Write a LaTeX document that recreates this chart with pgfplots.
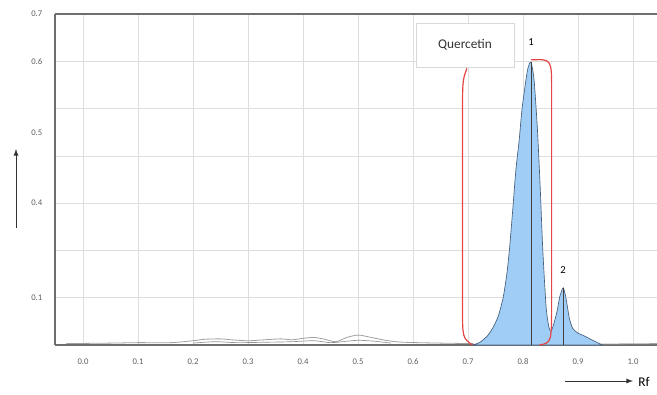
\documentclass[border=0pt]{standalone}
\usepackage{pgfplots}
\pgfplotsset{compat=1.18}
\usepackage{fontspec}
\setmainfont{Carlito}
\definecolor{fillblue}{RGB}{160,205,245}
\definecolor{outl}{RGB}{70,95,125}
\definecolor{axgray}{RGB}{110,110,110}
\definecolor{gridgray}{RGB}{222,222,222}
\definecolor{bracketred}{RGB}{228,70,70}
\definecolor{tickgray}{RGB}{95,95,95}
\begin{document}
\begin{tikzpicture}
\useasboundingbox (-55*0.75pt,-49*0.75pt) rectangle (602*0.75pt,345*0.75pt);
\begin{axis}[
  at={(0,0)}, anchor=south west,
  width=602*0.75pt, height=331*0.75pt, scale only axis,
  xmin=-0.0509, xmax=1.0436, ymin=0, ymax=7,
  axis x line*=bottom, axis y line*=left,
  axis line style={-, axgray, line width=2.2pt},
  xtick={0,0.1,0.2,0.3,0.4,0.5,0.6,0.7,0.8,0.9,1.0},
  xticklabels={0.0,0.1,0.2,0.3,0.4,0.5,0.6,0.7,0.8,0.9,1.0},
  ytick={1,2,3,4,5,6,7},
  yticklabels={0.1,,0.4,,,0.6,0.7},
  extra y ticks={4.5}, extra y tick labels={0.5},
  extra y tick style={grid=none},
  major tick length=0pt,
  grid=major, grid style={gridgray, line width=0.5pt},
  tick label style={font=\fontsize{6.5}{7}\selectfont, text=tickgray},
  xticklabel style={yshift=-7pt},
  yticklabel style={xshift=-6pt},
  clip=false,
]
% baseline noise
\addplot[gray!75, line width=0.6pt, smooth] coordinates {
 (-0.03,0.03) (0.05,0.04) (0.1,0.05) (0.16,0.05) (0.2,0.09) (0.22,0.12) (0.25,0.13) (0.27,0.11)
 (0.3,0.09) (0.33,0.11) (0.36,0.13) (0.38,0.11) (0.4,0.14) (0.42,0.16) (0.44,0.12) (0.46,0.07)
 (0.48,0.16) (0.5,0.21) (0.52,0.17) (0.55,0.1) (0.58,0.06) (0.65,0.04) (0.71,0.03)};
\addplot[gray!85, line width=0.5pt, smooth] coordinates {
 (0.2,0.04) (0.24,0.07) (0.28,0.05) (0.34,0.06) (0.38,0.07) (0.42,0.09) (0.45,0.05)
 (0.48,0.08) (0.5,0.1) (0.53,0.08) (0.56,0.04)};
\addplot[gray!70, line width=0.6pt] coordinates {(0.94,0.02) (1.0436,0.03)};
% peaks
\addplot[fill=fillblue, draw=outl, line width=0.5pt, smooth, tension=0.4] coordinates {
 (0.709,0) (0.722,0.06) (0.735,0.19) (0.745,0.36) (0.755,0.61) (0.764,1.01) (0.771,1.54)
 (0.776,2.11) (0.782,2.96) (0.787,3.70) (0.793,4.33) (0.798,4.97) (0.804,5.50) (0.809,5.86)
 (0.8145,5.98) (0.820,5.62) (0.826,4.60) (0.831,3.40) (0.836,2.00) (0.842,0.80) (0.847,0.38)
 (0.851,0.29) (0.856,0.45) (0.862,0.72) (0.867,1.03) (0.873,1.21) (0.878,1.00) (0.884,0.58)
 (0.890,0.36) (0.900,0.25) (0.910,0.20) (0.925,0.11) (0.944,0)} \closedcycle;
% peak markers
\addplot[black!75, line width=0.6pt] coordinates {(0.8145,0) (0.8145,5.98)};
\addplot[black!75, line width=0.6pt] coordinates {(0.873,0) (0.873,1.21)};
% brackets
\draw[bracketred, line width=0.9pt] (axis cs:0.698,5.85) .. controls (axis cs:0.690,5.6) .. (axis cs:0.690,4.8)
  -- (axis cs:0.690,0.8) .. controls (axis cs:0.690,0.15) .. (axis cs:0.708,0.0);
\draw[bracketred, line width=0.9pt] (axis cs:0.8145,6.03) .. controls (axis cs:0.852,6.05) .. (axis cs:0.852,5.4)
  -- (axis cs:0.852,0.9) .. controls (axis cs:0.852,0.05) .. (axis cs:0.830,0.0);
% labels
\node[fill=white, draw=gray!30, minimum width=98*0.75pt, minimum height=44*0.75pt, inner sep=0pt,
  font=\fontsize{10}{12}\selectfont, text=black!80] at (axis cs:0.6945,6.34) {Quercetin};
\node[font=\fontsize{8}{9}\selectfont] at (axis cs:0.8145,6.4) {1};
\node[font=\fontsize{8}{9}\selectfont] at (axis cs:0.873,1.58) {2};
\draw[axgray, line width=2.2pt] (rel axis cs:0,1) -- (rel axis cs:1,1);
\end{axis}
\draw[-latex, black!80, line width=0.7pt] (-39*0.75pt,117*0.75pt) -- (-39*0.75pt,196*0.75pt);
\draw[-latex, black!80, line width=0.7pt] (510*0.75pt,-36*0.75pt) -- (578*0.75pt,-36*0.75pt);
\node[anchor=west, inner sep=0pt, font=\fontsize{10}{11}\selectfont] at (583*0.75pt,-37*0.75pt) {Rf};
\end{tikzpicture}
\end{document}
